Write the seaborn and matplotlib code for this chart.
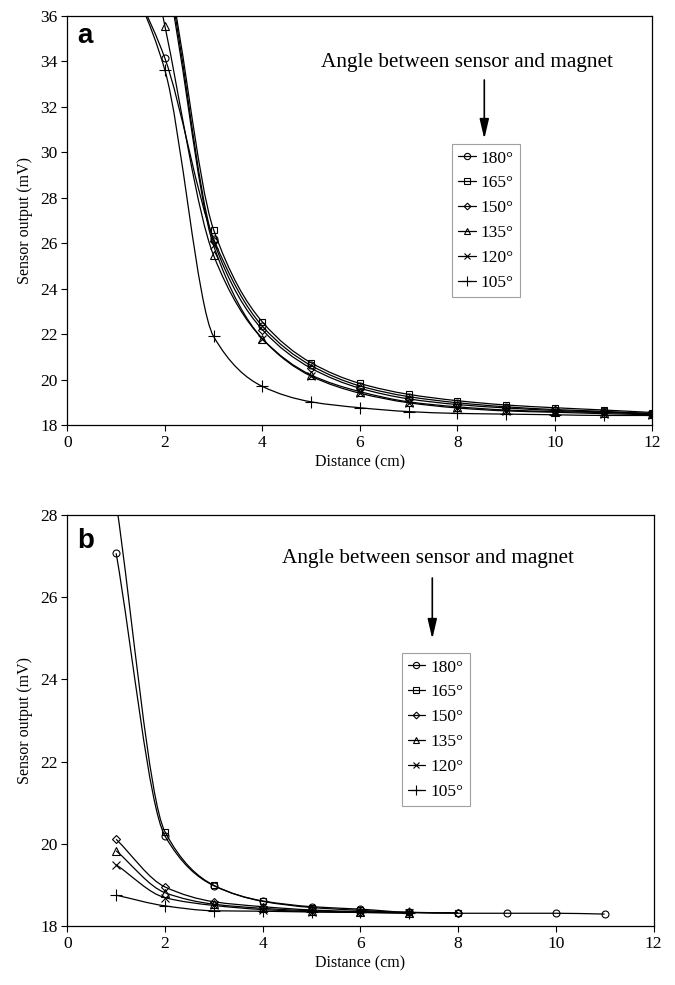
import numpy as np
import pandas as pd
import matplotlib
matplotlib.use("Agg")
import matplotlib.pyplot as plt
import seaborn as sns
from matplotlib.path import Path
from matplotlib.patches import PathPatch, FancyArrowPatch
from matplotlib.lines import Line2D

# ---------------- data ----------------
angles = ["180°", "165°", "150°", "135°", "120°", "105°"]

# panel a
dist_a = [1, 2, 3, 4, 5, 6, 7, 8, 9, 10, 11, 12]
a_180 = [38.8, 34.15, 26.2, 22.35, 20.62, 19.72, 19.25, 18.98, 18.80, 18.68, 18.60, 18.50]
a_165 = [44.0, 38.5, 26.6, 22.54, 20.74, 19.83, 19.35, 19.07, 18.88, 18.76, 18.66, 18.55]
a_150 = [44.0, 38.3, 26.1, 22.20, 20.50, 19.62, 19.15, 18.90, 18.75, 18.64, 18.57, 18.50]
a_135 = [46.0, 35.58, 25.47, 21.80, 20.20, 19.47, 19.02, 18.80, 18.66, 18.59, 18.55, 18.48]
a_120 = [44.0, 38.0, 25.9, 21.80, 20.15, 19.40, 18.98, 18.75, 18.62, 18.56, 18.50, 18.45]
a_105 = [39.0, 33.63, 21.9, 19.70, 19.02, 18.76, 18.59, 18.51, 18.48, 18.45, 18.42, 18.42]

# panel b
dist_b = [1, 2, 3, 4, 5, 6, 7, 8, 9, 10, 11]
b_180 = [27.07, 20.19, 18.98, 18.61, 18.47, 18.41, 18.33, 18.31, 18.31, 18.31, 18.29]
b_165 = [28.3, 20.29, 18.99, 18.60, 18.45, 18.38, 18.33, 18.32]
b_150 = [20.11, 18.95, 18.59, 18.47, 18.39, 18.35, 18.33, 18.32]
b_135 = [19.83, 18.81, 18.53, 18.43, 18.37, 18.34, 18.32]
b_120 = [19.49, 18.69, 18.50, 18.40, 18.35, 18.33, 18.32]
b_105 = [18.75, 18.49, 18.37, 18.36, 18.34, 18.33, 18.31]

series_a = [a_180, a_165, a_150, a_135, a_120, a_105]
series_b = [b_180, b_165, b_150, b_135, b_120, b_105]

marker_of = {"180°": "o", "165°": "s", "150°": "D", "135°": "^", "120°": "x", "105°": "+"}
msize_of = {"180°": 5.0, "165°": 4.6, "150°": 3.8, "135°": 5.2, "120°": 5.5, "105°": 8.0}

annot_text = "Angle between sensor and magnet"

# ---------------- style ----------------
sns.set_theme(style="ticks")
plt.rcParams["font.family"] = ["Liberation Serif", "DejaVu Serif"]
plt.rcParams.update({
    "axes.edgecolor": "black",
    "axes.linewidth": 0.9,
    "xtick.color": "black",
    "ytick.color": "black",
    "xtick.major.size": 4,
    "ytick.major.size": 4,
    "xtick.major.width": 0.8,
    "ytick.major.width": 0.8,
    "xtick.labelsize": 12.5,
    "ytick.labelsize": 12.5,
    "axes.labelsize": 11.5,
    "axes.labelcolor": "black",
    "text.color": "black",
})

fig = plt.figure(figsize=(6.75, 9.85), dpi=100)
W, H = 675.0, 985.0


def fx(px):
    return px / W


def fy(py):
    return 1 - py / H


ax_a = fig.add_axes([fx(67.3), fy(425), fx(652.3) - fx(67.3), fy(16) - fy(425)])
ax_b = fig.add_axes([fx(67.3), fy(926), fx(653.5) - fx(67.3), fy(515) - fy(926)])


def smooth_path(x, y):
    """Monotone cubic (Fritsch-Carlson style) curve through the points as Bezier path."""
    x = np.asarray(x, float)
    y = np.asarray(y, float)
    n = len(x)
    d = np.diff(y) / np.diff(x)
    m = np.zeros(n)
    m[0], m[-1] = d[0], d[-1]
    for i in range(1, n - 1):
        if d[i - 1] * d[i] <= 0:
            m[i] = 0.0
        else:
            m[i] = 2.0 / (1.0 / d[i - 1] + 1.0 / d[i])
    verts = [(x[0], y[0])]
    codes = [Path.MOVETO]
    for i in range(n - 1):
        h = x[i + 1] - x[i]
        c1 = (x[i] + h / 3, y[i] + m[i] * h / 3)
        c2 = (x[i + 1] - h / 3, y[i + 1] - m[i + 1] * h / 3)
        verts += [c1, c2, (x[i + 1], y[i + 1])]
        codes += [Path.CURVE4] * 3
    return Path(verts, codes)


def draw_panel(ax, dist, series):
    for name, vals in zip(angles, series):
        xs = dist[:len(vals)]
        ax.add_patch(PathPatch(smooth_path(xs, vals), facecolor="none",
                               edgecolor="black", lw=0.9, zorder=2))
        df = pd.DataFrame({"x": xs, "y": vals})
        sns.lineplot(data=df, x="x", y="y", ax=ax, marker=marker_of[name],
                     linestyle="", color="black", markerfacecolor="none",
                     markeredgecolor="black", markeredgewidth=0.8,
                     markersize=msize_of[name], legend=False, zorder=3)


draw_panel(ax_a, dist_a, series_a)
draw_panel(ax_b, dist_b, series_b)

for ax, ylim, yt in [(ax_a, (18, 36), np.arange(18, 37, 2)),
                     (ax_b, (18, 28), np.arange(18, 29, 2))]:
    ax.set_xlim(0, 12)
    ax.set_ylim(*ylim)
    ax.set_xticks(np.arange(0, 13, 2))
    ax.set_yticks(yt)
    ax.set_xlabel("Distance (cm)", labelpad=3)
    ax.set_ylabel("Sensor output (mV)", labelpad=5)
    ax.tick_params(axis="both", direction="out", pad=3)
    for s in ax.spines.values():
        s.set_visible(True)
        s.set_color("black")

# legends
handles = [Line2D([], [], color="black", lw=0.9, marker=marker_of[n],
                  markerfacecolor="none", markeredgecolor="black",
                  markeredgewidth=0.8, markersize=msize_of[n] * 0.9)
           for n in angles]
for ax, (lx, ly) in [(ax_a, (452.3, 144.3)), (ax_b, (401.7, 653.3))]:
    leg = ax.legend(handles, angles, loc="upper left",
                    bbox_to_anchor=(fx(lx), fy(ly)), bbox_transform=fig.transFigure,
                    borderaxespad=0, fontsize=12.5, frameon=True, fancybox=False,
                    edgecolor="#888888", handlelength=1.0, handletextpad=0.3,
                    labelspacing=0.5, borderpad=0.35)
    leg.get_frame().set_linewidth(0.8)

# annotations
for (tx, ty), (axx, ay0, ay1) in [((467.5, 63), (484.3, 80, 139)),
                                  ((427.5, 558), (432.3, 578, 639))]:
    fig.text(fx(tx), fy(ty), annot_text, ha="center", va="center", fontsize=15.3)
    fig.patches.append(FancyArrowPatch((fx(axx), fy(ay0)), (fx(axx), fy(ay1)),
                                       transform=fig.transFigure,
                                       arrowstyle="-|>,head_length=1.2,head_width=0.28",
                                       mutation_scale=10, color="black", lw=1.2,
                                       shrinkA=0, shrinkB=0))

fig.text(fx(77), fy(43), "a", fontsize=20, fontweight="bold",
         family=["Liberation Sans", "DejaVu Sans"], ha="left", va="baseline")
fig.text(fx(77), fy(548), "b", fontsize=20, fontweight="bold",
         family=["Liberation Sans", "DejaVu Sans"], ha="left", va="baseline")

fig.savefig("out.png", dpi=100)
